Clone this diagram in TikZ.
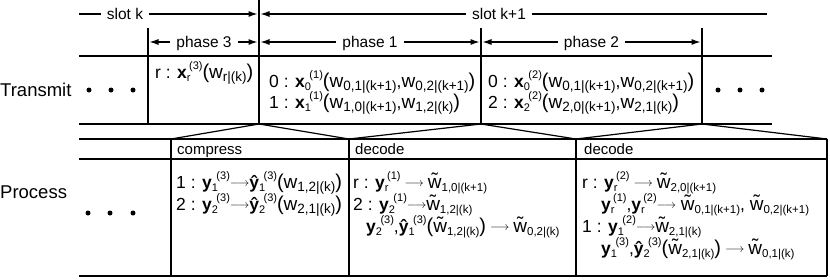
\documentclass[tikz,border=0pt]{standalone}
\usepackage{fontspec}
\setmainfont{Liberation Sans}
\usetikzlibrary{arrows.meta}

\newcommand{\lo}[1]{\raisebox{-3.5pt}{\fontsize{13.5}{13.5}\selectfont #1}}
\newcommand{\los}[1]{\raisebox{-3pt}{\fontsize{11.5}{11.5}\selectfont #1}}
\newcommand{\li}[1]{\raisebox{-3pt}{\fontsize{11}{11}\selectfont #1}}
\newcommand{\hi}[1]{\raisebox{8.8pt}{\fontsize{11}{11}\selectfont #1}}
\newcommand{\lohi}[2]{\li{#1}\hspace{-1.5pt}\hi{#2}}
\newcommand{\bx}{\textbf{x}}
\newcommand{\by}{\textbf{y}}
\newcommand{\bhy}{\textbf{\^y}}
\newcommand{\ww}{{\fontsize{19}{19}\selectfont w}}
\newcommand{\tww}{{\fontsize{19}{19}\selectfont\ooalign{w\cr\hidewidth\raisebox{2pt}{\char"02DC}\hidewidth\cr}}}
\newcommand{\lp}{{\fontsize{20}{20}\selectfont(}}
\newcommand{\rp}{{\fontsize{20}{20}\selectfont)}}
\newcommand{\arr}{\raisebox{1.8pt}{\fontsize{13}{13}\selectfont$\longrightarrow$}}
\newcommand{\Arr}{\hspace{4pt}\arr\hspace{4pt}}

\tikzset{
  ln/.style={line width=1.2pt},
  arw/.style={line width=1.1pt, shorten >=1.5pt, shorten <=1.5pt},
  lab/.style={font=\fontsize{15.5}{15.5}\selectfont, fill=white, inner xsep=6pt, inner ysep=1pt, anchor=base},
  rowlab/.style={font=\fontsize{18.5}{18.5}\selectfont, anchor=base west, inner sep=0pt},
  hdr/.style={font=\fontsize{15}{15}\selectfont, anchor=base west, inner sep=0pt},
  cell/.style={font=\fontsize{17.5}{17.5}\selectfont, anchor=base west, inner sep=0pt},
  dot/.style={circle, fill=black, inner sep=0pt, minimum size=5pt},
}

\begin{document}
\begin{tikzpicture}[x=1pt, y=-1pt]
\useasboundingbox (0,0) rectangle (830,279);

% coordinates
\coordinate (sk0) at (79,14);
\coordinate (sk1) at (259,14);
\coordinate (sk2) at (767,14);
\coordinate (ph0) at (148,42);
\coordinate (ph1) at (259,42);
\coordinate (ph2) at (481,42);
\coordinate (ph3) at (702,42);

\coordinate (ha) at (79,56);  \coordinate (hb) at (772,56);
\coordinate (ga) at (79,124); \coordinate (gb) at (772,124);

\coordinate (vAt) at (259,0);  \coordinate (vAb) at (259,124);
\coordinate (vBt) at (148,28); \coordinate (vBb) at (148,124);
\coordinate (vCt) at (481,28); \coordinate (vCb) at (481,124);
\coordinate (vDt) at (702,28); \coordinate (vDb) at (702,124);

\coordinate (pa1) at (79,139);  \coordinate (pb1) at (827,139);
\coordinate (pa2) at (79,159);  \coordinate (pb2) at (827,159);
\coordinate (pa3) at (79,276);  \coordinate (pb3) at (827,276);
\coordinate (c1t) at (171,139); \coordinate (c1b) at (171,276);
\coordinate (c2t) at (349,139); \coordinate (c2b) at (349,276);
\coordinate (c3t) at (576,139); \coordinate (c3b) at (576,276);

% transmit grid
\draw[ln] (ha) -- (hb);
\draw[ln] (ga) -- (gb);
\draw[ln] (vAt) -- (vAb);
\draw[ln] (vBt) -- (vBb);
\draw[ln] (vCt) -- (vCb);
\draw[ln] (vDt) -- (vDb);

% process grid
\draw[ln] (pa1) -- (pb1);
\draw[ln] (pa2) -- (pb2);
\draw[ln] (pa3) -- (pb3);
\draw[ln] (c1t) -- (c1b);
\draw[ln] (c2t) -- (c2b);
\draw[ln] (c3t) -- (c3b);
\draw[ln] (pb1) -- (pb3);

% zoom connectors
\draw[ln] (vAb) -- (c1t);
\draw[ln] (vAb) -- (c2t);
\draw[ln] (vCb) -- (c2t);
\draw[ln] (vCb) -- (c3t);
\draw[ln] (vDb) -- (c3t);
\draw[ln] (vDb) -- (pb1);

% timing arrows
\draw[arw, shorten <=0pt, -{Latex[length=9pt,width=6pt]}] (sk0) -- (sk1);
\draw[arw, shorten >=0pt, {Latex[length=9pt,width=6pt]}-] (sk1) -- (sk2);
\draw[arw, {Latex[length=9pt,width=6pt]}-{Latex[length=9pt,width=6pt]}] (ph0) -- (ph1);
\draw[arw, {Latex[length=9pt,width=6pt]}-{Latex[length=9pt,width=6pt]}] (ph1) -- (ph2);
\draw[arw, {Latex[length=9pt,width=6pt]}-{Latex[length=9pt,width=6pt]}] (ph2) -- (ph3);

\node[lab] (slotk)  at (125,19) {slot k};
\node[lab] (slotk1) at (499,19) {slot k+1};
\node[lab] (phase3) at (204,47) {phase 3};
\node[lab] (phase1) at (370,47) {phase 1};
\node[lab] (phase2) at (591.5,47) {phase 2};

% row labels
\node[rowlab] (transmit) at (0,96) {Transmit};
\node[rowlab] (process) at (0,198) {Process};

% dots
\node[dot] (td1) at (89,90) {};
\node[dot] (td2) at (111,90) {};
\node[dot] (td3) at (133,90) {};
\node[dot] (td4) at (718,90) {};
\node[dot] (td5) at (740,90) {};
\node[dot] (td6) at (762,90) {};
\node[dot] (pd1) at (88,213) {};
\node[dot] (pd2) at (110,213) {};
\node[dot] (pd3) at (133,213) {};

% transmit cells
\node[cell] (t3a) at (155,78) {r : \bx\lohi{r}{(3)}\lp\ww\lo{r|(k)}\rp};
\node[cell] (t1a) at (269,87) {0 : \bx\lohi{0}{(1)}\lp\ww\lo{0,1|(k+1)},\ww\lo{0,2|(k+1)}\rp};
\node[cell] (t1b) at (269,108) {1 : \bx\lohi{1}{(1)}\lp\ww\lo{1,0|(k+1)},\ww\lo{1,2|(k)}\rp};
\node[cell] (t2a) at (488,87) {0 : \bx\lohi{0}{(2)}\lp\ww\lo{0,1|(k+1)},\ww\lo{0,2|(k+1)}\rp};
\node[cell] (t2b) at (488,108) {2 : \bx\lohi{2}{(2)}\lp\ww\lo{2,0|(k+1)},\ww\lo{2,1|(k)}\rp};

% process headers
\node[hdr] (hcomp) at (177,154) {compress};
\node[hdr] (hdec1) at (355,154) {decode};
\node[hdr] (hdec2) at (584,154) {decode};

% compress cell
\node[cell] (cpa) at (176,188) {1 : \by\lohi{1}{(3)}\arr\bhy\lohi{1}{(3)}\lp\ww\lo{1,2|(k)}\rp};
\node[cell] (cpb) at (176,210) {2 : \by\lohi{2}{(3)}\arr\bhy\lohi{2}{(3)}\lp\ww\lo{2,1|(k)}\rp};

% decode cell 1
\node[cell] (d1a) at (353,188) {r : \by\lohi{r}{(1)}\Arr\tww\los{1,0|(k+1)}};
\node[cell] (d1b) at (353,210) {2 : \by\lohi{2}{(1)}\arr\tww\los{1,2|(k)}};
\node[cell] (d1c) at (366,232) {\by\lohi{2}{(3)},\bhy\lohi{1}{(3)}\lp\tww\los{1,2|(k)}\rp\Arr\tww\los{0,2|(k)}};

% decode cell 2
\node[cell] (d2a) at (582,188) {r : \by\lohi{r}{(2)}\Arr\tww\los{2,0|(k+1)}};
\node[cell] (d2b) at (601,210) {\by\lohi{r}{(1)},\by\lohi{r}{(2)}\arr\ \tww\los{0,1|(k+1)}, \tww\los{0,2|(k+1)}};
\node[cell] (d2c) at (582,232) {1 : \by\lohi{1}{(2)}\arr\tww\los{2,1|(k)}};
\node[cell] (d2d) at (601,254) {\by\lohi{1}{(3)},\bhy\lohi{2}{(3)}\lp\tww\los{2,1|(k)}\rp\Arr\tww\los{0,1|(k)}};
\end{tikzpicture}
\end{document}
